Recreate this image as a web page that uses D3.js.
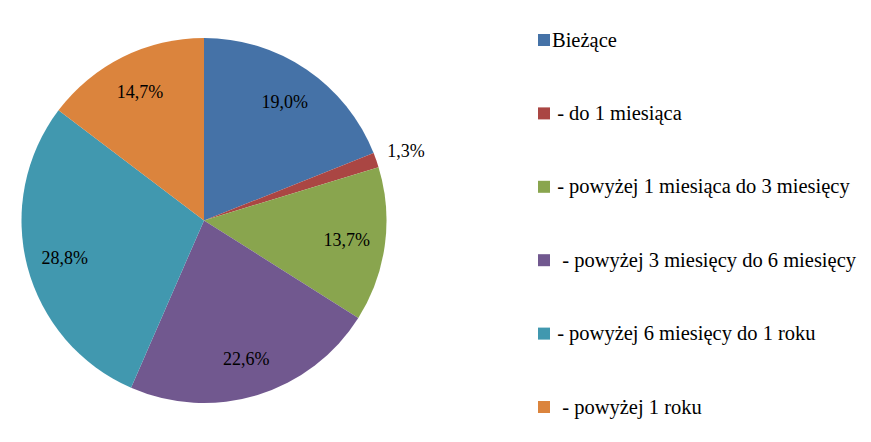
<!DOCTYPE html>
<html>
<head>
<meta charset="utf-8">
<script src="https://cdn.jsdelivr.net/npm/d3@7"></script>
<style>
  body { margin: 0; background: #fff; }
</style>
</head>
<body>
<svg id="chart" width="871" height="442"></svg>
<script>
// data
var categories = ["Bieżące", " - do 1 miesiąca", " - powyżej 1 miesiąca do 3 miesięcy",
                  "  - powyżej 3 miesięcy do 6 miesięcy", " - powyżej 6 miesięcy do 1 roku", "  - powyżej 1 roku"];
var values = [19.0, 1.3, 13.7, 22.6, 28.8, 14.7];
var labels = ["19,0%", "1,3%", "13,7%", "22,6%", "28,8%", "14,7%"];
var colors = ["#4572A7", "#AA4643", "#89A54E", "#71588F", "#4198AF", "#DB843D"];
var outside = [false, true, false, false, false, false];

var cx = 204, cy = 220.5, radius = 182.5;
var serif = "'Liberation Serif', 'Times New Roman', serif";

var svg = d3.select("#chart");

var pie = d3.pie().sort(null).value(d => d)(values);
var arc = d3.arc().innerRadius(0).outerRadius(radius);
var labelArc = d3.arc().innerRadius(144).outerRadius(144);
var outArc = d3.arc().innerRadius(214).outerRadius(214);

var g = svg.append("g").attr("transform", "translate(" + cx + "," + cy + ")");

g.selectAll("path")
  .data(pie)
  .enter()
  .append("path")
  .attr("d", arc)
  .attr("fill", (d, i) => colors[i]);

g.selectAll(".lbl")
  .data(pie)
  .enter()
  .append("text")
  .attr("class", "lbl")
  .attr("transform", (d, i) => "translate(" + (outside[i] ? outArc : labelArc).centroid(d) + ")")
  .attr("text-anchor", "middle")
  .attr("dy", "0.38em")
  .attr("font-family", serif)
  .attr("font-size", 18)
  .attr("fill", "#000")
  .text((d, i) => labels[i]);

// legend
var legendY = d3.scalePoint().domain(d3.range(categories.length)).range([40, 407]);

var leg = svg.append("g").selectAll("g")
  .data(categories)
  .enter()
  .append("g")
  .attr("transform", (d, i) => "translate(538," + legendY(i) + ")");

leg.append("rect")
  .attr("x", 0)
  .attr("y", -6)
  .attr("width", 12)
  .attr("height", 12)
  .attr("fill", (d, i) => colors[i]);

leg.append("text")
  .attr("x", 14)
  .attr("dy", "0.32em")
  .attr("xml:space", "preserve")
  .style("white-space", "pre")
  .attr("font-family", serif)
  .attr("font-size", 20.5)
  .attr("fill", "#000")
  .text(d => d);
</script>
</body>
</html>
